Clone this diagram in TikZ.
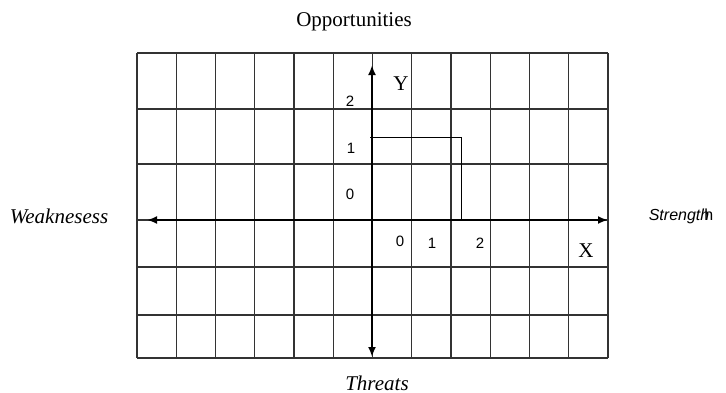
\documentclass[tikz,border=0pt]{standalone}
\usepackage{fontspec}
\setmainfont{Liberation Serif}
\newfontfamily\numfont{Liberation Sans}
\usetikzlibrary{arrows.meta}

\begin{document}
\begin{tikzpicture}[x=0.5pt,y=-0.5pt,font=\fontsize{10.5}{12}\selectfont,
    gridline/.style={line width=0.7pt,black!80},
    axis/.style={line width=1pt,{Latex[length=5pt,width=4pt]}-{Latex[length=5pt,width=4pt]}},
    num/.style={font=\numfont\fontsize{7.5}{9}\selectfont}]
  \useasboundingbox (0,0) rectangle (726,392);
  % grid
  \foreach \x in {0,...,12}
    \draw[gridline] (137+\x*39.25,53) -- (137+\x*39.25,358);
  \foreach \y in {53,109,164,220,267,315,358}
    \draw[gridline] (137,\y) -- (608,\y);
  % axes
  \coordinate (west) at (147,220);
  \coordinate (east) at (608,220);
  \coordinate (north) at (372,65);
  \coordinate (south) at (372,357);
  \draw[axis] (west) -- (east);
  \draw[axis] (north) -- (south);
  \draw[line width=0.5pt] (370,137) -- (461,137) -- (461,220);
  % labels
  \node (opp) at (354,22) {Opportunities};
  \node (weak) at (59,216) {\textit{Weaknesess}};
  \node[font=\numfont\fontsize{8}{9.6}\selectfont] (str) at (681,216) {\textit{Strength}\kern-2.5pt h};
  \node (thr) at (377,383) {\textit{Threats}};
  \node (ylab) at (401,84) {Y};
  \node (xlab) at (586,251) {X};
  \foreach \name/\t/\x/\y in {y2/2/350/101,y1/1/351/148,y0/0/350/194,x0/0/400/241,x1/1/432/243,x2/2/480/243}
    \node[num] (\name) at (\x,\y) {\t};
\end{tikzpicture}
\end{document}
